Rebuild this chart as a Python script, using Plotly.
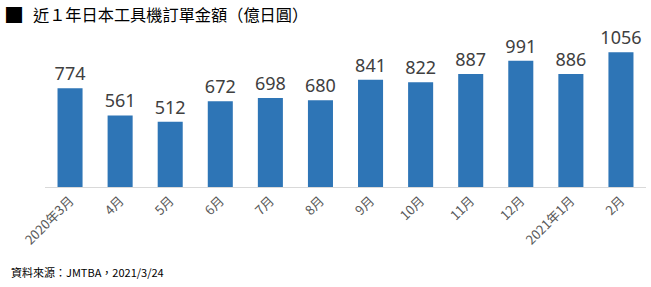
import plotly.graph_objects as go

categories = ["2020年3月", "4月", "5月", "6月", "7月", "8月", "9月", "10月", "11月", "12月", "2021年1月", "2月"]
values = [774, 561, 512, 672, 698, 680, 841, 822, 887, 991, 886, 1056]
title_mark = "■"
title_text = "近１年日本工具機訂單金額（億日圓）"
source_text = "資料來源：JMTBA，2021/3/24"

font_family = "Noto Sans CJK TC, Noto Sans, sans-serif"
PW, PH, ML, MB = 601, 153, 45, 100

def px_x(x):
    return (x - ML) / PW

def px_y(y):
    return (287 - MB - y) / PH

fig = go.Figure(go.Bar(
    x=categories, y=values,
    marker=dict(color="#2E75B6", line=dict(width=0)),
    text=[str(v) for v in values],
    textposition="outside",
    constraintext="none",
    textfont=dict(size=18, color="#404040", family="Noto Sans, sans-serif"),
    cliponaxis=False,
))

fig.update_layout(
    width=651, height=287,
    margin=dict(l=ML, r=5, t=34, b=MB),
    paper_bgcolor="white", plot_bgcolor="white",
    bargap=0.5,
    showlegend=False,
    font=dict(family=font_family),
    xaxis=dict(
        tickangle=-45,
        tickfont=dict(size=13, color="#595959", family=font_family),
        showline=True, linecolor="#D9D9D9", linewidth=1,
        ticks="", showgrid=False,
    ),
    yaxis=dict(range=[0, 1200], visible=False, showgrid=False),
    annotations=[
        dict(text=title_mark, xref="paper", yref="paper", x=px_x(14), y=px_y(14),
             xanchor="center", yanchor="middle", showarrow=False,
             font=dict(size=20, color="#000000", family=font_family)),
        dict(text=title_text, xref="paper", yref="paper", x=px_x(31), y=px_y(14),
             xanchor="left", yanchor="middle", showarrow=False,
             font=dict(size=16.2, color="#000000", family=font_family)),
        dict(text=source_text, xref="paper", yref="paper", x=px_x(9), y=px_y(272),
             xanchor="left", yanchor="middle", showarrow=False,
             font=dict(size=11, color="#000000", family=font_family)),
    ],
)

fig.write_html("out.html")
